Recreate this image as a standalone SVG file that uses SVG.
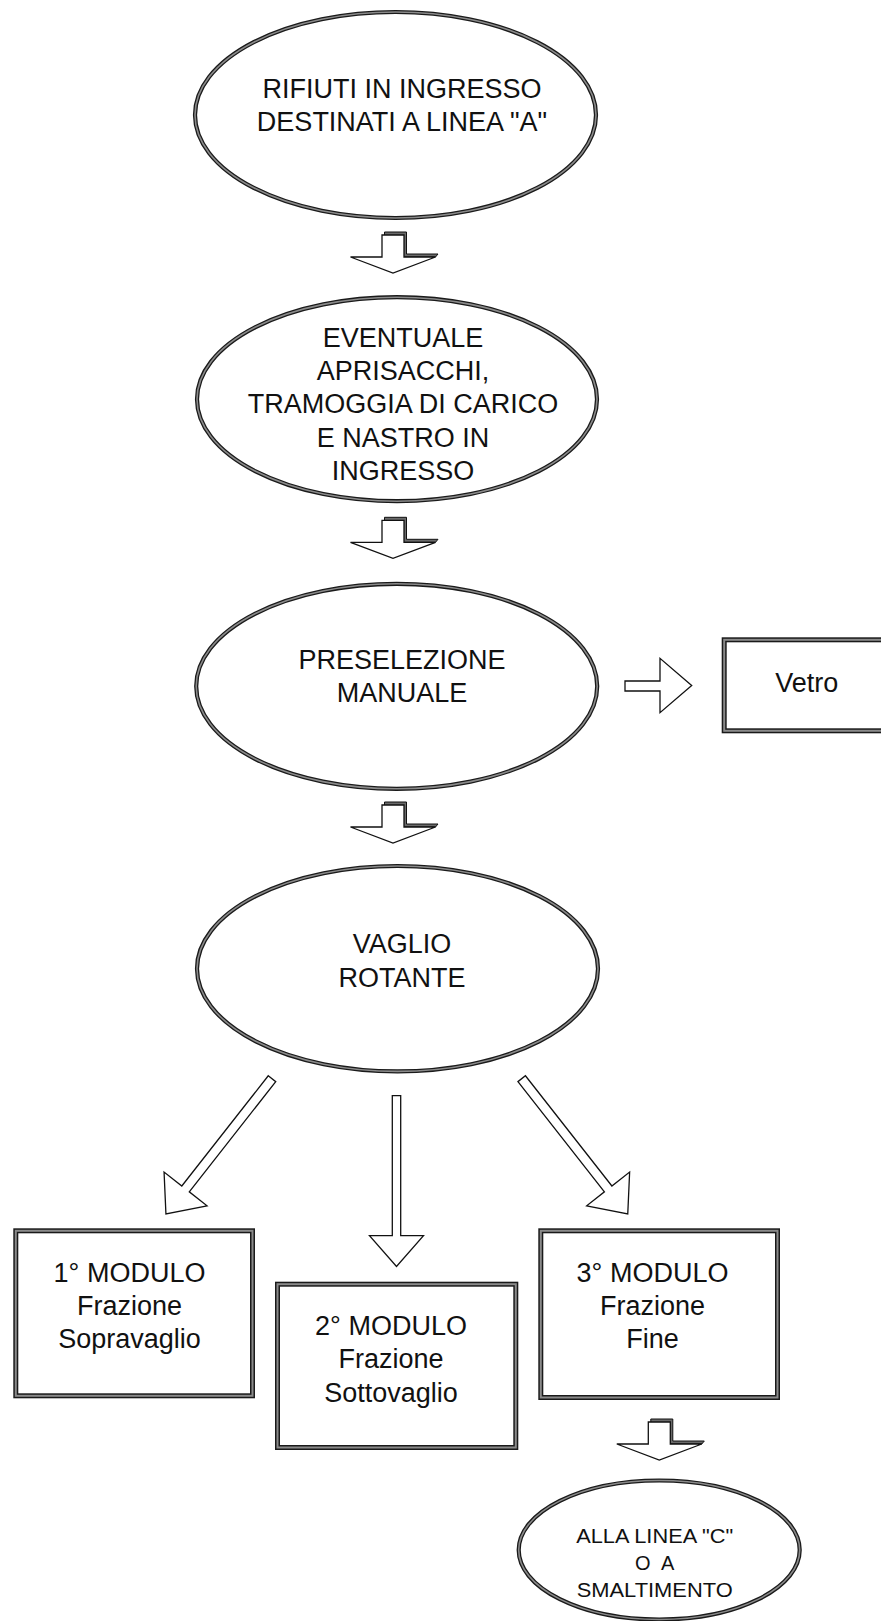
<svg xmlns="http://www.w3.org/2000/svg" width="881" height="1621" viewBox="0 0 881 1621">
<style>
.bg{fill:#ffffff}
.eo{fill:#ffffff;stroke:#1a1a1a;stroke-width:4.2}
.ei{fill:none;stroke:#8a8a8a;stroke-width:1.6}
.bo{fill:#ffffff;stroke:#1a1a1a;stroke-width:5}
.bi{fill:none;stroke:#8a8a8a;stroke-width:2}
.t{font-family:"Liberation Sans",Arial,sans-serif;font-size:27px;fill:#111;text-anchor:middle}
.ts{font-family:"Liberation Sans",Arial,sans-serif;font-size:20px;fill:#111;text-anchor:middle}
.ar{fill:#ffffff;stroke:#111;stroke-width:1.3;stroke-linejoin:miter}
.sh{fill:#6a6a6a;stroke:#111;stroke-width:1}
</style>
<defs>
<g id="bent">
<polygon class="sh" points="-8.5,-3 13.5,-3 13.5,19 45,19 42.5,22 -8.5,22"/>
<path class="ar" d="M -11 0 H 11 V 22 H 42.5 L 0 38 L -42.5 22 H -11 Z"/>
</g>
<path id="diag" class="ar" d="M -4.75 0 L 4.75 0 L 4.75 140.1 L 27.3 140.1 L 0 171.9 L -27.3 140.1 L -4.75 140.1 Z"/>
</defs>
<rect class="bg" x="0" y="0" width="881" height="1621"/>

<g id="connectors">
<use href="#bent" transform="translate(393,235)"/>
<use href="#bent" transform="translate(393,520.3)"/>
<use href="#bent" transform="translate(393,805)"/>
<use href="#bent" transform="translate(659.3,1422)"/>
<path class="ar" d="M 625 681 H 660 V 658.3 L 691.7 685.5 L 660 712.7 V 691 H 625 Z"/>
<use href="#diag" transform="translate(272,1078.7) rotate(38.1)"/>
<use href="#diag" transform="translate(521.7,1078.7) rotate(-38.1)"/>
<path class="ar" d="M 392.3 1095.7 H 400.7 V 1235.7 H 423.5 L 396.5 1266.5 L 369.5 1235.7 H 392.3 Z"/>
</g>

<g id="n1">
<ellipse class="eo" cx="395.5" cy="115" rx="200.5" ry="103"/>
<ellipse class="ei" cx="395.5" cy="115" rx="200.5" ry="103"/>
<text class="t" x="402" y="98.3">RIFIUTI IN INGRESSO</text>
<text class="t" x="402" y="131.3">DESTINATI A LINEA "A"</text>
</g>

<g id="n2">
<ellipse class="eo" cx="397" cy="399.2" rx="200" ry="102"/>
<ellipse class="ei" cx="397" cy="399.2" rx="200" ry="102"/>
<text class="t" x="403" y="346.7">EVENTUALE</text>
<text class="t" x="403" y="380">APRISACCHI,</text>
<text class="t" x="403" y="413.3">TRAMOGGIA DI CARICO</text>
<text class="t" x="403" y="446.7">E NASTRO IN</text>
<text class="t" x="403" y="480">INGRESSO</text>
</g>

<g id="n3">
<ellipse class="eo" cx="396.7" cy="686.3" rx="200.5" ry="102.5"/>
<ellipse class="ei" cx="396.7" cy="686.3" rx="200.5" ry="102.5"/>
<text class="t" x="402" y="669.3">PRESELEZIONE</text>
<text class="t" x="402" y="701.7">MANUALE</text>
</g>

<g id="n4">
<ellipse class="eo" cx="397.5" cy="968.7" rx="200.5" ry="102.7"/>
<ellipse class="ei" cx="397.5" cy="968.7" rx="200.5" ry="102.7"/>
<text class="t" x="402" y="953.3">VAGLIO</text>
<text class="t" x="402" y="986.7">ROTANTE</text>
</g>

<g id="vetro">
<rect class="bo" x="724.2" y="639.8" width="200" height="91"/>
<rect class="bi" x="724.2" y="639.8" width="200" height="91"/>
<text class="t" x="806.7" y="691.7">Vetro</text>
</g>

<g id="m1">
<rect class="bo" x="15.8" y="1230.8" width="236.7" height="165"/>
<rect class="bi" x="15.8" y="1230.8" width="236.7" height="165"/>
<text class="t" x="129.5" y="1281.7">1° MODULO</text>
<text class="t" x="129.5" y="1315">Frazione</text>
<text class="t" x="129.5" y="1348.3">Sopravaglio</text>
</g>

<g id="m2">
<rect class="bo" x="277.5" y="1284.2" width="238.3" height="163.3"/>
<rect class="bi" x="277.5" y="1284.2" width="238.3" height="163.3"/>
<text class="t" x="391" y="1335">2° MODULO</text>
<text class="t" x="391" y="1368.3">Frazione</text>
<text class="t" x="391" y="1401.7">Sottovaglio</text>
</g>

<g id="m3">
<rect class="bo" x="540.8" y="1230.8" width="236.7" height="166.7"/>
<rect class="bi" x="540.8" y="1230.8" width="236.7" height="166.7"/>
<text class="t" x="652.5" y="1281.7">3° MODULO</text>
<text class="t" x="652.5" y="1315">Frazione</text>
<text class="t" x="652.5" y="1348.3">Fine</text>
</g>

<g id="n5">
<ellipse class="eo" cx="659.2" cy="1550" rx="140.5" ry="69.5"/>
<ellipse class="ei" cx="659.2" cy="1550" rx="140.5" ry="69.5"/>
<text class="ts" x="654.7" y="1543.3" textLength="157" lengthAdjust="spacingAndGlyphs">ALLA LINEA "C"</text>
<text class="ts" x="654.7" y="1570" word-spacing="6">O A</text>
<text class="ts" x="654.7" y="1596.7" textLength="156" lengthAdjust="spacingAndGlyphs">SMALTIMENTO</text>
</g>
</svg>
